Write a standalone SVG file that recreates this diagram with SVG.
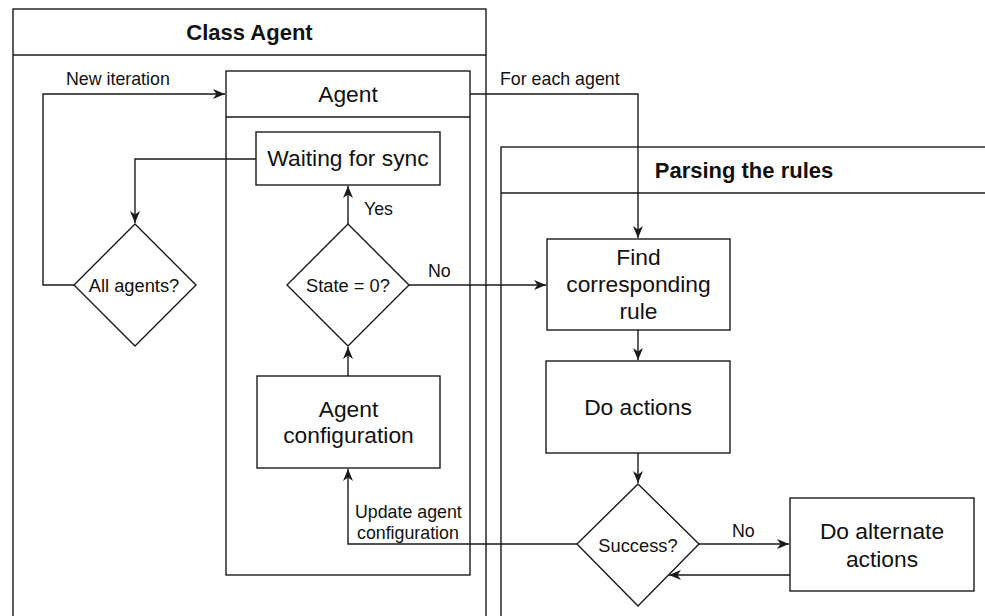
<svg xmlns="http://www.w3.org/2000/svg" width="985" height="616" viewBox="0 0 985 616">
  <style>
    .box { fill: #ffffff; stroke: #1a1a1a; stroke-width: 1.4; }
    .frame { fill: none; stroke: #1a1a1a; stroke-width: 1.4; }
    .edge { fill: none; stroke: #1a1a1a; stroke-width: 1.4; }
    .t { font-family: "Liberation Sans", Arial, sans-serif; fill: #111111; text-anchor: middle; }
    .node { font-size: 22.8px; }
    .title { font-size: 22px; font-weight: bold; }
    .small { font-size: 18.3px; }
    .lbl { font-size: 17.8px; text-anchor: start; }
  </style>
  <defs>
    <marker id="arrow" markerUnits="userSpaceOnUse" markerWidth="13" markerHeight="11" refX="12" refY="5.5" orient="auto">
      <path d="M0,0.5 L12,5.5 L0,10.5 L3.5,5.5 Z" fill="#1a1a1a"/>
    </marker>
  </defs>
  <rect width="985" height="616" fill="#ffffff"/>

  <!-- Swimlane containers -->
  <g id="class-agent">
    <rect class="frame" x="13" y="9" width="473" height="640"/>
    <line class="frame" x1="13" y1="55" x2="486" y2="55"/>
    <text class="t title" x="249.5" y="40">Class Agent</text>
  </g>
  <g id="agent">
    <rect class="frame" x="226" y="71" width="244" height="504"/>
    <line class="frame" x1="226" y1="117" x2="470" y2="117"/>
    <text class="t node" x="348" y="102">Agent</text>
  </g>
  <g id="parsing-rules">
    <rect class="frame" x="501" y="147" width="520" height="500"/>
    <line class="frame" x1="501" y1="193" x2="1021" y2="193"/>
    <text class="t title" x="744" y="178">Parsing the rules</text>
  </g>

  <!-- Connectors -->
  <g id="connectors">
    <polyline class="edge" points="470,94 638,94 638,238" marker-end="url(#arrow)"/>
    <polyline class="edge" points="256,159 135,159 135,223" marker-end="url(#arrow)"/>
    <polyline class="edge" points="74,285 43,285 43,94 225,94" marker-end="url(#arrow)"/>
    <polyline class="edge" points="348,224 348,186" marker-end="url(#arrow)"/>
    <polyline class="edge" points="409,285 546,285" marker-end="url(#arrow)"/>
    <polyline class="edge" points="348,376 348,347" marker-end="url(#arrow)"/>
    <polyline class="edge" points="638,330 638,360" marker-end="url(#arrow)"/>
    <polyline class="edge" points="638,453 638,483" marker-end="url(#arrow)"/>
    <polyline class="edge" points="577,544 348,544 348,469" marker-end="url(#arrow)"/>
    <polyline class="edge" points="699,544 789,544" marker-end="url(#arrow)"/>
    <polyline class="edge" points="790,575 669,575" marker-end="url(#arrow)"/>
    <text class="t lbl" x="66" y="85">New iteration</text>
    <text class="t lbl" x="500" y="85">For each agent</text>
    <text class="t lbl" x="364" y="215">Yes</text>
    <text class="t lbl" x="428" y="277">No</text>
    <text class="t lbl" x="355" y="518">Update agent</text>
    <text class="t lbl" x="357" y="539">configuration</text>
    <text class="t lbl" x="732" y="537">No</text>
  </g>

  <!-- Nodes -->
  <g id="waiting-sync">
    <rect class="box" x="256" y="132" width="184" height="53"/>
    <text class="t node" x="348" y="166">Waiting for sync</text>
  </g>
  <g id="all-agents">
    <polygon class="box" points="135,224 196,285 135,346 74,285"/>
    <text class="t small" x="134" y="292">All agents?</text>
  </g>
  <g id="state-check">
    <polygon class="box" points="348,224 409,285 348,346 287,285"/>
    <text class="t small" x="348" y="292">State = 0?</text>
  </g>
  <g id="agent-config">
    <rect class="box" x="257" y="376" width="183" height="92"/>
    <text class="t node" x="348.5" y="417">Agent</text>
    <text class="t node" x="348.5" y="443">configuration</text>
  </g>
  <g id="find-rule">
    <rect class="box" x="547" y="239" width="183" height="91"/>
    <text class="t node" x="638.5" y="265">Find</text>
    <text class="t node" x="638.5" y="292">corresponding</text>
    <text class="t node" x="638.5" y="319">rule</text>
  </g>
  <g id="do-actions">
    <rect class="box" x="546" y="361" width="184" height="92"/>
    <text class="t node" x="638" y="415">Do actions</text>
  </g>
  <g id="success">
    <polygon class="box" points="638,484 699,544 638,606 577,544"/>
    <text class="t small" x="638" y="552">Success?</text>
  </g>
  <g id="alternate-actions">
    <rect class="box" x="790" y="498" width="184" height="93"/>
    <text class="t node" x="882" y="539">Do alternate</text>
    <text class="t node" x="882" y="567">actions</text>
  </g>
</svg>
